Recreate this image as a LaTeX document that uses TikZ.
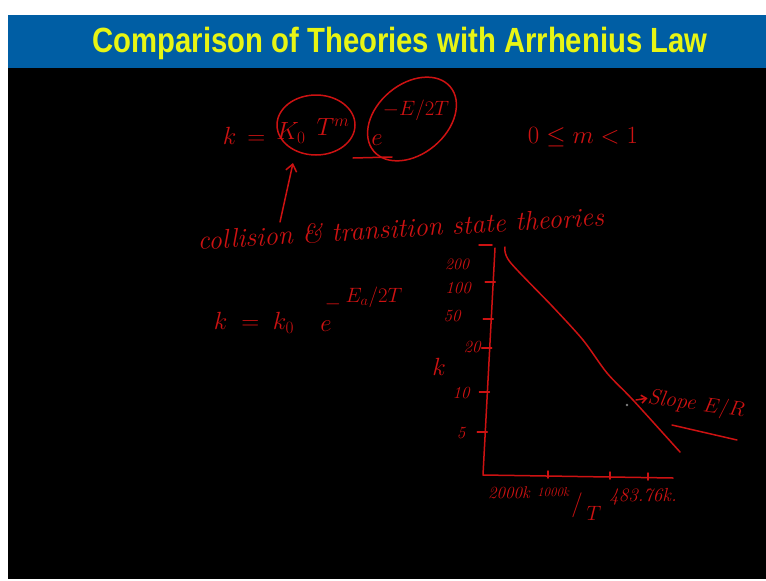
\documentclass[tikz,border=0pt]{standalone}
\usepackage{graphicx}
\usepackage{fontspec}
\newfontfamily\titlefont{Liberation Sans}
\usetikzlibrary{positioning,arrows.meta,shapes.geometric}
\definecolor{SlideBlue}{RGB}{0,94,164}
\definecolor{TitleYellow}{RGB}{232,245,20}
\definecolor{InkRed}{RGB}{205,18,18}
\tikzset{
  ink/.style={text=InkRed, inner sep=0pt, font=\fontsize{25}{27}\selectfont},
  inkmid/.style={ink, font=\fontsize{20}{22}\selectfont},
  inksmall/.style={ink, font=\fontsize{17}{19}\selectfont},
  inkbig/.style={ink, font=\fontsize{27}{29}\selectfont\itshape, rotate=3.5},
  stroke/.style={draw=InkRed, line width=1.5pt, line cap=round, line join=round},
  ring/.style={stroke, ellipse, inner sep=0pt},
  inkarr/.style={stroke, -{Straight Barb[length=7pt, width=11pt]}},
}
\begin{document}
\begin{tikzpicture}[x=1pt, y=-1pt]
  \useasboundingbox (0,0) rectangle (766,581);
  % slide background
  \fill[white] (0,0) rectangle (766,581);
  \fill[SlideBlue] (8,15) rectangle (766,68);
  \fill[black] (8,68) rectangle (766,579);
  \node[text=TitleYellow, font=\titlefont\bfseries\fontsize{35}{37}\selectfont] (title) at (400,43)
    {\resizebox{615pt}{\height}{Comparison of Theories with Arrhenius Law}};

  % first rate expression
  \node[ink] (k1) at (244,136) {$k\,=$};
  \node[ink] (k0) at (291,133) {$K_0$};
  \node[ink] (tm) at (333,127) {$T^m$};
  \node[ring, minimum width=78pt, minimum height=60pt] (ring1) at (316,125) {};
  \node[ink] (e1) at (377,140) {$e$};
  \node[inkmid] (ex1) at (416,110) {$-E/2T$};
  \draw[stroke, rotate around={40:(412,119)}] (412,119) ellipse [x radius=50pt, y radius=35pt];
  \draw[stroke] (353,158) -- (392,157);
  \node[ink] (cond) at (583,137) {$0\le m<1$};

  % theories label
  \node[inkbig] (theo1) at (320,233) {collision \& transition};
  \node[inkbig, anchor=base west] (theo2) at ([xshift=9pt]theo1.base east) {state theories};
  \coordinate (tail) at (280,222);
  \coordinate (head) at (293,163);
  \draw[inkarr] (tail) -- (head);

  % Arrhenius form
  \node[ink] (k2) at (254,323) {$k\;=\;k_0$};
  \node[ink] (e2) at (326,326) {$e$};
  \node[inkmid] (minus2) at (333,304) {$-$};
  \node[inkmid] (ex2) at (374,297) {$E_a/2T$};

  % plot of k against 1/T
  \coordinate (ytop) at (495,248);
  \coordinate (orig) at (483,475);
  \coordinate (xend) at (673,478);
  \draw[stroke] (ytop) -- (orig) -- (xend);
  \draw[stroke] (479,245) -- (492,245);
  \foreach \yy in {282,319,348,392,432}
    \draw[stroke] ({495-(\yy-248)*12/227-8},\yy) -- ({495-(\yy-248)*12/227+2},\yy);
  \foreach \xx/\yy in {548/478,610/479,648/480}
    \draw[stroke] (\xx,\yy) -- (\xx,\yy-7);
  \node[inksmall, font=\fontsize{16}{18}\selectfont] (l200) at (457,264) {\itshape 200};
  \node[inksmall] (l100) at (458,288) {\itshape 100};
  \node[inksmall] (l50) at (452,316) {\itshape 50};
  \node[inksmall] (l20) at (472,347) {\itshape 20};
  \node[ink] (ky) at (439,367) {$k$};
  \node[inksmall] (l10) at (461,393) {\itshape 10};
  \node[inksmall] (l5) at (461,433) {\itshape 5};
  \draw[stroke] plot[smooth] coordinates {(505,247) (510,262) (553,307) (583,340) (607,373) (633,400) (680,452)};
  \fill[gray] (627,405) circle (1.3pt);
  \node[ink, font=\fontsize{22}{24}\selectfont, rotate=-8] (slope) at (696,405) {\itshape Slope $E/R$};
  \coordinate (sl) at (636,400);
  \draw[inkarr, -{Straight Barb[length=5pt, width=8pt]}] (sl) -- (slope.west);
  \draw[stroke] (672,425) -- (737,440);
  \node[inksmall] (x1) at (509,493) {\itshape 2000k};
  \node[inksmall, font=\fontsize{13}{15}\selectfont] (x2) at (553,492) {\itshape 1000k};
  \node[ink] (slash) at (577,505) {/};
  \node[inkmid] (tx) at (594,513) {$T$};
  \node[inksmall, font=\fontsize{19}{21}\selectfont] (x3) at (643,497) {\itshape 483.76k.};
\end{tikzpicture}
\end{document}
